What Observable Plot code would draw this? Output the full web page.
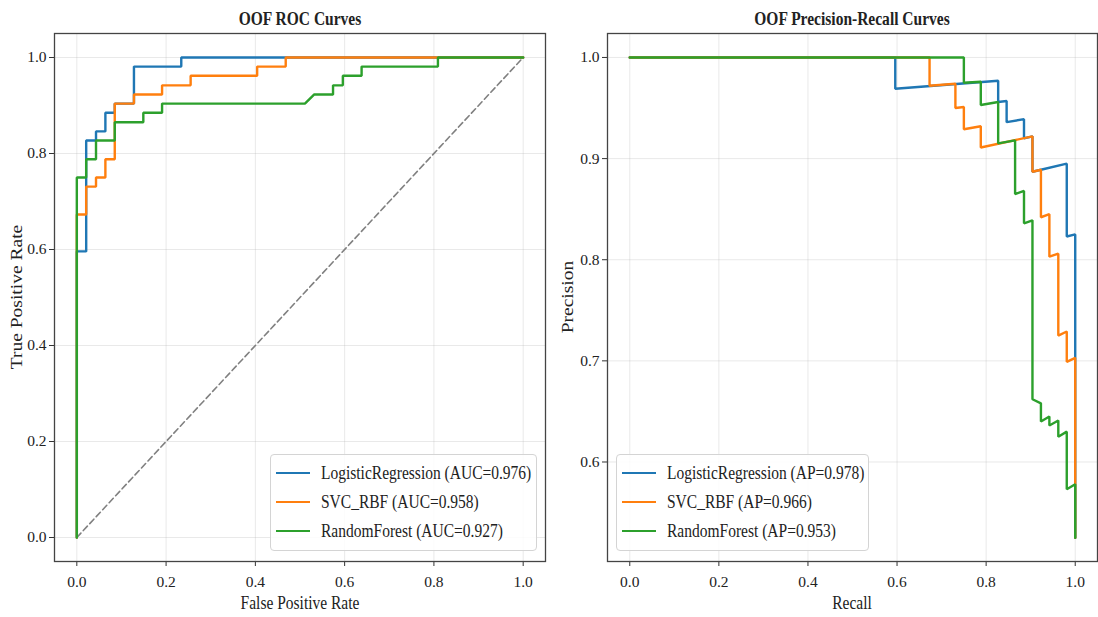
<!DOCTYPE html>
<html><head><meta charset="utf-8">
<script src="https://cdn.jsdelivr.net/npm/d3@7"></script>
<script src="https://cdn.jsdelivr.net/npm/@observablehq/plot@0.6"></script>
<style>
body{margin:0;background:#fff;}
#fig{position:relative;width:1098px;height:617px;overflow:hidden;font-family:"Liberation Serif","Times New Roman",serif;color:#222;background:#fff;}
.panel{position:absolute;top:0;}
.title{position:absolute;font-weight:bold;font-size:18.5px;line-height:20px;white-space:nowrap;transform:translate(-50%,-50%) scaleX(0.838);}
.xlab{position:absolute;font-size:18.5px;line-height:20px;white-space:nowrap;transform:translate(-50%,-50%) scaleX(0.838);}
.ylab{position:absolute;font-size:19.5px;line-height:20px;white-space:nowrap;transform:translate(-50%,-50%) rotate(-90deg) scaleY(0.85);}
.legend{position:absolute;border:1px solid #d4d4d4;border-radius:4px;background:rgba(255,255,255,0.85);box-sizing:border-box;}
.legend .row{position:absolute;left:0;height:20px;display:flex;align-items:center;white-space:nowrap;}
.legend .sw{width:34px;height:0;border-top:2.5px solid;margin-left:5px;margin-right:11px;}
.legend .lt{font-size:18.5px;line-height:20px;display:inline-block;transform:scaleX(0.838);transform-origin:0 50%;}
</style></head><body><div id="fig"></div>
<script>
// ---- data ----
const models = ["LogisticRegression", "SVC_RBF", "RandomForest"];
const colors = ["#1f77b4", "#ff7f0e", "#2ca02c"];
const aucScores = [0.976, 0.958, 0.927];
const apScores = [0.978, 0.966, 0.953];
const rateTicks = [0, 0.2, 0.4, 0.6, 0.8, 1.0];
const precisionTicks = [0.6, 0.7, 0.8, 0.9, 1.0];
const chanceLine = [0, 1];

const rocFprLR = [0,0,0.021,0.021,0.043,0.043,0.064,0.064,0.085,0.085,0.128,0.128,0.234,0.234,1];
const rocTprLR = [0,0.596,0.596,0.827,0.827,0.846,0.846,0.885,0.885,0.904,0.904,0.981,0.981,1,1];
const rocFprSVC = [0,0,0.021,0.021,0.043,0.043,0.064,0.064,0.085,0.085,0.128,0.128,0.191,0.191,0.255,0.255,0.404,0.404,0.468,0.468,1];
const rocTprSVC = [0,0.673,0.673,0.731,0.731,0.75,0.75,0.788,0.788,0.904,0.904,0.923,0.923,0.942,0.942,0.962,0.962,0.981,0.981,1,1];
const rocFprRF = [0,0,0.021,0.021,0.043,0.043,0.085,0.085,0.149,0.149,0.191,0.191,0.511,0.532,0.574,0.574,0.596,0.596,0.638,0.638,0.809,0.809,1];
const rocTprRF = [0,0.75,0.75,0.788,0.788,0.827,0.827,0.865,0.865,0.885,0.885,0.904,0.904,0.923,0.923,0.942,0.942,0.962,0.962,0.981,0.981,1,1];

const prRecallLR = [0,0.596,0.596,0.827,0.827,0.846,0.846,0.885,0.885,0.904,0.904,0.923,0.981,0.981,1,1];
const prPrecisionLR = [1,1,0.969,0.977,0.956,0.957,0.936,0.939,0.92,0.922,0.887,0.889,0.895,0.823,0.825,0.525];
const prRecallSVC = [0,0.673,0.673,0.731,0.731,0.75,0.75,0.788,0.788,0.904,0.904,0.923,0.923,0.942,0.942,0.962,0.962,0.981,0.981,1,1];
const prPrecisionSVC = [1,1,0.972,0.974,0.95,0.951,0.929,0.932,0.911,0.922,0.887,0.889,0.842,0.845,0.803,0.806,0.725,0.729,0.699,0.703,0.525];
const prRecallRF = [0,0.75,0.75,0.788,0.788,0.827,0.827,0.865,0.865,0.885,0.885,0.904,0.904,0.923,0.923,0.942,0.942,0.962,0.962,0.981,0.981,1,1];
const prPrecisionRF = [1,1,0.975,0.976,0.953,0.956,0.915,0.918,0.865,0.868,0.836,0.839,0.662,0.658,0.64,0.645,0.636,0.641,0.625,0.63,0.573,0.578,0.525];

// ---- build tables ----
const toRows = (xs, ys, k) => xs.map((x, i) => ({x, y: ys[i], model: models[k]}));
const rocSeries = [[rocFprLR, rocTprLR], [rocFprSVC, rocTprSVC], [rocFprRF, rocTprRF]].map(([a, b], k) => toRows(a, b, k));
const prSeries = [[prRecallLR, prPrecisionLR], [prRecallSVC, prPrecisionSVC], [prRecallRF, prPrecisionRF]].map(([a, b], k) => toRows(a, b, k));

const FONT = '"Liberation Serif","Times New Roman",serif';
const fig = document.getElementById("fig");

function makePanel({left, width, marginLeft, marginRight, yDomain, yTicks, series, extra}) {
  const fmt = d3.format(".1f");
  const chart = Plot.plot({
    width, height: 617,
    marginTop: 33, marginBottom: 56, marginLeft, marginRight,
    x: {domain: [-0.05, 1.05]},
    y: {domain: yDomain},
    style: {fontFamily: FONT, fontSize: "15px", color: "#222", background: "transparent", overflow: "visible"},
    marks: [
      Plot.gridX(rateTicks, {stroke: "#b0b0b0", strokeOpacity: 0.35, strokeWidth: 0.8}),
      Plot.gridY(yTicks, {stroke: "#b0b0b0", strokeOpacity: 0.35, strokeWidth: 0.8}),
      Plot.axisX(rateTicks, {tickFormat: fmt, tickSize: 5, tickPadding: 9, stroke: "#333", label: null, fontSize: 15.5}),
      Plot.axisY(yTicks, {tickFormat: fmt, tickSize: 5, tickPadding: 3, stroke: "#333", label: null, fontSize: 15.5}),
      ...extra,
      ...series.map((rows, k) => Plot.line(rows, {x: "x", y: "y", stroke: colors[k], strokeWidth: 2.4, strokeLinejoin: "miter"})),
      Plot.frame({stroke: "#444", strokeWidth: 1.3})
    ]
  });
  chart.classList.add("panel");
  chart.style.left = left + "px";
  fig.appendChild(chart);
  return chart;
}

makePanel({
  left: 0, width: 560, marginLeft: 54, marginRight: 15,
  yDomain: [-0.05, 1.05], yTicks: rateTicks, series: rocSeries,
  extra: [Plot.line(chanceLine.map(v => ({x: v, y: v})), {x: "x", y: "y", stroke: "#808080", strokeWidth: 1.6, strokeDasharray: "6,3.5"})]
});

makePanel({
  left: 560, width: 538, marginLeft: 47, marginRight: 1,
  yDomain: [0.5016, 1.0237], yTicks: precisionTicks, series: prSeries, extra: []
});

function addText(cls, text, cx, cy) {
  const d = document.createElement("div");
  d.className = cls; d.textContent = text;
  d.style.left = cx + "px"; d.style.top = cy + "px";
  fig.appendChild(d);
}
addText("title", "OOF ROC Curves", 299.5, 19);
addText("title", "OOF Precision-Recall Curves", 852, 19);
addText("xlab", "False Positive Rate", 299.5, 603);
addText("xlab", "Recall", 852, 603);
addText("ylab", "True Positive Rate", 16.5, 297);
addText("ylab", "Precision", 568, 297);

function addLegend(left, width, scores, key) {
  const box = document.createElement("div");
  box.className = "legend";
  Object.assign(box.style, {left: left + "px", top: "454px", width: width + "px", height: "97px"});
  models.forEach((m, k) => {
    const row = document.createElement("div");
    row.className = "row";
    row.style.top = (8 + k * 29.2) + "px";
    const sw = document.createElement("span");
    sw.className = "sw"; sw.style.borderTopColor = colors[k];
    const t = document.createElement("span");
    t.className = "lt";
    t.textContent = `${m} (${key}=${scores[k].toFixed(3)})`;
    row.appendChild(sw); row.appendChild(t);
    box.appendChild(row);
  });
  fig.appendChild(box);
}
addLegend(270, 267, aucScores, "AUC");
addLegend(616, 253, apScores, "AP");
</script></body></html>
